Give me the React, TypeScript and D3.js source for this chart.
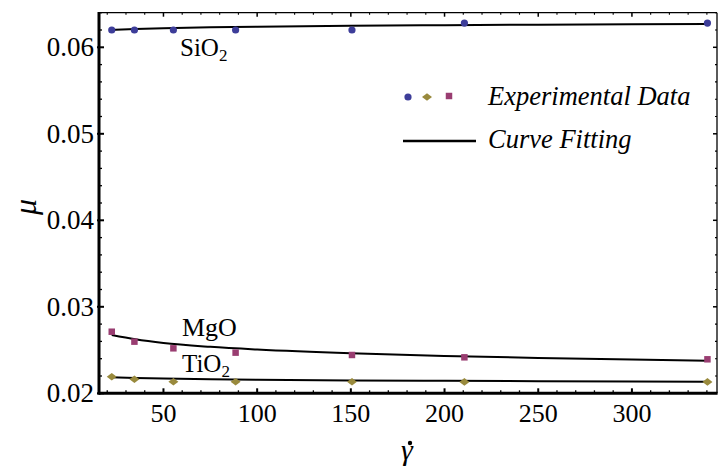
import React from "react";
import * as d3 from "d3";

const shearRates = [22.4, 34.5, 55.3, 88.5, 150.6, 210.6, 340.3];
const sio2Data = [0.0620, 0.0620, 0.0620, 0.0620, 0.0620, 0.0628, 0.0628];
const tio2Data = [0.02192, 0.02162, 0.02134, 0.02134, 0.02134, 0.02132, 0.02132];
const mgoData = [0.02712, 0.02597, 0.0252, 0.0247, 0.02443, 0.02416, 0.02393];

const fitX = [22.4, 35, 50, 75, 100, 150, 200, 250, 300, 340.3];
const sio2Fit = [0.0620, 0.06212, 0.06221, 0.06231, 0.06238, 0.06249, 0.06256, 0.06262, 0.06267, 0.0627];
const tio2Fit = [0.02185, 0.02177, 0.02170, 0.02163, 0.02157, 0.02149, 0.02144, 0.0214, 0.02136, 0.02134];
const mgoFit = [0.02674, 0.02624, 0.02581, 0.02537, 0.02506, 0.02462, 0.02432, 0.02409, 0.0239, 0.02377];

const xTicks = [50, 100, 150, 200, 250, 300];
const yTicks = [0.02, 0.03, 0.04, 0.05, 0.06];
const yTickLabels = ["0.02", "0.03", "0.04", "0.05", "0.06"];

const legendLabels = ["Experimental Data", "Curve Fitting"];
const colors = { sio2: "#3d3d99", tio2: "#998a3d", mgo: "#993d71" };

const W = 718;
const H = 468;
const FONT = "Liberation Serif, Times New Roman, DejaVu Serif, serif";

const diamond = "M-5,0L0,-3.8L5,0L0,3.8Z";

export default function App() {
  const x = d3.scaleLinear().domain([15.6, 345.4]).range([99, 717]);
  const y = d3.scaleLinear().domain([0.02, 0.064]).range([393.3, 12.7]);
  const [x0, x1] = x.range();
  const [y0, y1] = y.range();

  const line = d3
    .line<number>()
    .x((_, i) => x(fitX[i]))
    .y((d) => y(d))
    .curve(d3.curveMonotoneX);

  const xMinor = d3.range(20, 345, 10).filter((v) => v % 50 !== 0);
  const yMinor = d3.range(0.02, 0.0641, 0.002).filter((v) => Math.abs(v * 100 - Math.round(v * 100)) > 1e-6);

  const square = d3.symbol(d3.symbolSquare, 42)();

  return (
    <svg width={W} height={H} style={{ position: "absolute", left: 0, top: 0, background: "#fff", fontFamily: FONT }}>
      <rect x={0} y={0} width={W} height={H} fill="#fff" />
      {/* fits */}
      <path d={line(sio2Fit) || ""} fill="none" stroke="#000" strokeWidth={2} />
      <path d={line(mgoFit) || ""} fill="none" stroke="#000" strokeWidth={2} />
      <path d={line(tio2Fit) || ""} fill="none" stroke="#000" strokeWidth={2} />
      {/* points */}
      {sio2Data.map((v, i) => (
        <circle key={"s" + i} cx={x(shearRates[i])} cy={y(v)} r={3.6} fill={colors.sio2} />
      ))}
      {tio2Data.map((v, i) => (
        <path key={"t" + i} d={diamond} transform={`translate(${x(shearRates[i])},${y(v)})`} fill={colors.tio2} />
      ))}
      {mgoData.map((v, i) => (
        <path key={"m" + i} d={square} transform={`translate(${x(shearRates[i])},${y(v)})`} fill={colors.mgo} />
      ))}
      {/* frame */}
      <line x1={x0} x2={x1} y1={y1} y2={y1} stroke="#000" strokeWidth={1.3} />
      <line x1={x1} x2={x1} y1={y1} y2={y0} stroke="#000" strokeWidth={1.3} />
      <line x1={x0} x2={x1 + 0.6} y1={y0} y2={y0} stroke="#000" strokeWidth={3} />
      <line x1={x0} x2={x0} y1={y1 - 0.6} y2={y0 + 1.5} stroke="#000" strokeWidth={3} />
      {/* x ticks */}
      {xTicks.map((t) => (
        <g key={"xt" + t}>
          <line x1={x(t)} x2={x(t)} y1={y0} y2={y0 - 5} stroke="#000" strokeWidth={2} />
          <line x1={x(t)} x2={x(t)} y1={y1} y2={y1 + 4} stroke="#000" strokeWidth={1.5} />
          <text x={x(t)} y={422} textAnchor="middle" fontSize={26}>
            {t}
          </text>
        </g>
      ))}
      {xMinor.map((t) => (
        <g key={"xm" + t}>
          <line x1={x(t)} x2={x(t)} y1={y0} y2={y0 - 3} stroke="#000" strokeWidth={1.3} />
          <line x1={x(t)} x2={x(t)} y1={y1} y2={y1 + 2} stroke="#000" strokeWidth={1.1} />
        </g>
      ))}
      {/* y ticks */}
      {yTicks.map((t, i) => (
        <g key={"yt" + t}>
          <line x1={x0 - 2} x2={x0 + 5} y1={y(t)} y2={y(t)} stroke="#000" strokeWidth={2} />
          <line x1={x1} x2={x1 - 4} y1={y(t)} y2={y(t)} stroke="#000" strokeWidth={1.5} />
          <text x={94} y={y(t) + 9} textAnchor="end" fontSize={27}>
            {yTickLabels[i]}
          </text>
        </g>
      ))}
      {yMinor.map((t, i) => (
        <g key={"ym" + i}>
          <line x1={x0} x2={x0 + 3} y1={y(t)} y2={y(t)} stroke="#000" strokeWidth={1.3} />
          <line x1={x1} x2={x1 - 2} y1={y(t)} y2={y(t)} stroke="#000" strokeWidth={1.1} />
        </g>
      ))}
      {/* axis labels */}
      <text transform="translate(36,207) rotate(-90)" textAnchor="middle" fontSize={32} fontStyle="italic">
        μ
      </text>
      <text x={407} y={460} textAnchor="middle" fontSize={30} fontStyle="italic">
        γ
      </text>
      <circle cx={410} cy={443} r={2.2} fill="#000" />
      {/* series labels */}
      <text x={180} y={56} fontSize={25}>
        SiO<tspan fontSize={17} dy={5}>2</tspan>
      </text>
      <text x={182} y={336} fontSize={26}>
        MgO
      </text>
      <text x={182} y={371.5} fontSize={25}>
        TiO<tspan fontSize={17} dy={5}>2</tspan>
      </text>
      {/* legend */}
      <circle cx={408} cy={97} r={3.6} fill={colors.sio2} />
      <path d={diamond} transform="translate(427,97)" fill={colors.tio2} />
      <path d={square} transform="translate(449,96)" fill={colors.mgo} />
      <text x={488} y={104.5} fontSize={26.5} fontStyle="italic">
        {legendLabels[0]}
      </text>
      <line x1={403} x2={476} y1={141} y2={141} stroke="#000" strokeWidth={2.5} />
      <text x={488} y={148} fontSize={26.5} fontStyle="italic">
        {legendLabels[1]}
      </text>
    </svg>
  );
}
